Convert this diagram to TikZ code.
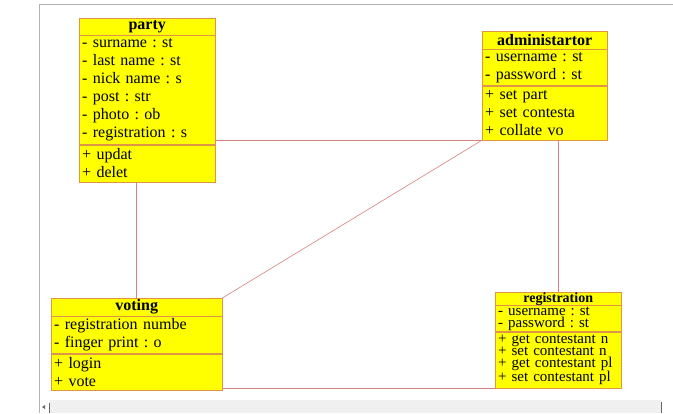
\documentclass[tikz,border=0pt]{standalone}
\usepackage{fontspec}
\setmainfont{Liberation Serif}
\usepackage{tikz}
\usetikzlibrary{positioning}
\definecolor{umlyellow}{RGB}{255,255,0}
\definecolor{umlline}{RGB}{222,150,70}
\definecolor{linkred}{RGB}{214,128,128}
\frenchspacing
\begin{document}
\begin{tikzpicture}[x=1pt,y=-1pt,
	box/.style={draw=umlline,fill=umlyellow,inner xsep=3pt,inner ysep=0pt,font=\fontsize{16}{18}\selectfont,align=left},
	head/.style={box,font=\fontsize{16}{18}\selectfont\bfseries,align=center},
	link/.style={draw=linkred,line width=0.6pt}]
\useasboundingbox (0,0) rectangle (673,413);
\draw[gray!60] (39,413) -- (39,4) -- (673,4);
\fill[gray!12] (49,400) rectangle (661,413);
\draw[gray!80!black] (661,402) -- (661,413);
\draw[gray!80!black] (49,403) -- (49,413);
\fill[gray!80!black] (42,407) -- (45,405) -- (45,409) -- cycle;
\node[head,text width=130pt,minimum height=17pt,anchor=north west] (party) at (79,18) {party};
\node[box,text width=130pt,minimum height=109pt,below=0pt of party] (party-attr) {- surname : st\\- last name : st\\- nick name : s\\- post : str\\- photo : ob\\- registration : s};
\node[box,text width=130pt,minimum height=37pt,below=0pt of party-attr] (party-ops) {+ updat\\+ delet};
\node[head,text width=119pt,minimum height=18pt,anchor=north west] (admin) at (482,31) {administartor};
\node[box,text width=119pt,minimum height=36pt,below=0pt of admin] (admin-attr) {- username : st\\- password : st};
\node[box,text width=119pt,minimum height=54pt,below=0pt of admin-attr] (admin-ops) {+ set part\\+ set contesta\\+ collate vo};
\node[head,text width=165pt,minimum height=18pt,anchor=north west] (voting) at (51,298) {voting};
\node[box,text width=165pt,minimum height=37pt,below=0pt of voting] (voting-attr) {- registration numbe\\- finger print : o};
\node[box,text width=165pt,minimum height=36pt,below=0pt of voting-attr] (voting-ops) {+ login\\+ vote};
\node[head,text width=120pt,minimum height=13pt,anchor=north west,font=\fontsize{14}{12}\selectfont\bfseries] (reg) at (495,292) {registration};
\node[box,text width=120pt,minimum height=26pt,below=0pt of reg,font=\fontsize{15}{12}\selectfont] (reg-attr) {- username : st\\- password : st};
\node[box,text width=120pt,minimum height=56pt,below=0pt of reg-attr,font=\fontsize{15}{12}\selectfont] (reg-ops) {+ get contestant n\\+ set contestant n\\+ get contestant pl\\+ set contestant pl};
\draw[link] (party-attr.east |- admin-ops.south west) -- (admin-ops.south west);
\draw[link] (voting.north |- party-ops.south) -- (voting.north);
\draw[link] (admin-ops.south west) -- (voting.north east);
\draw[link] (reg.north |- admin-ops.south) -- (reg.north);
\draw[link] (voting-ops.east |- reg-ops.south west) -- (reg-ops.south west);
\end{tikzpicture}
\end{document}
